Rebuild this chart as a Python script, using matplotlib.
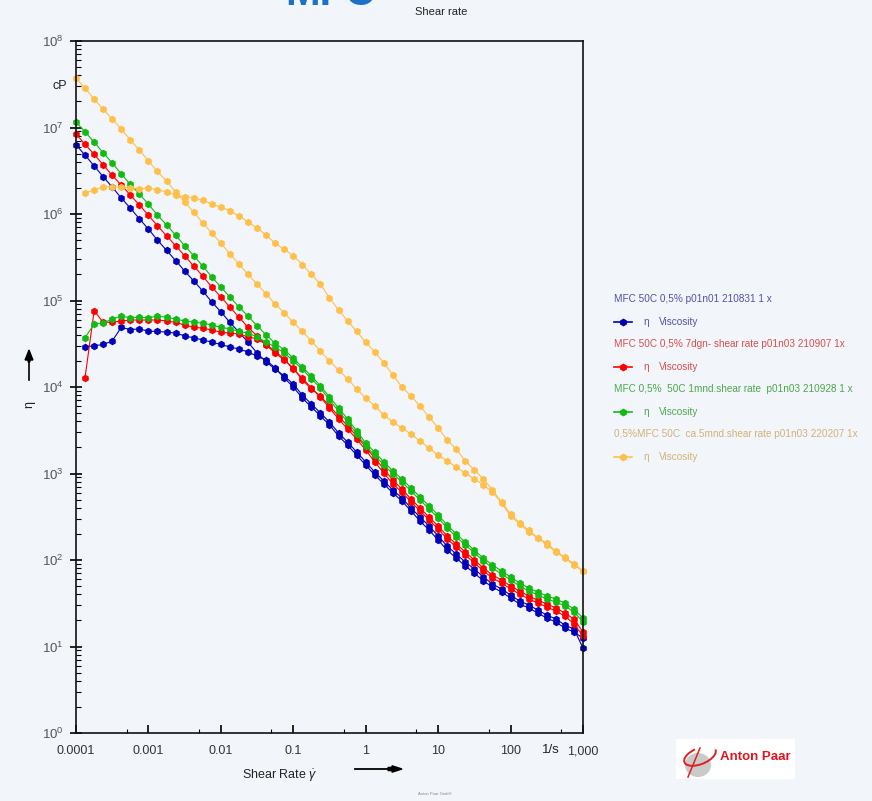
"""
plot.py

Flow curves (viscosity vs. shear rate) of four MFC samples, Anton Paar style.
"""

import numpy as np
import matplotlib
matplotlib.use("Agg")
import matplotlib.pyplot as plt
from matplotlib.lines import Line2D
from matplotlib.patches import Rectangle, Ellipse, Arc, FancyArrow
from matplotlib.ticker import LogLocator, NullFormatter

plt.rcParams["font.family"] = ["Liberation Sans", "DejaVu Sans"]
plt.rcParams["mathtext.fontset"] = "custom"
plt.rcParams["mathtext.rm"] = "Liberation Sans"
plt.rcParams["mathtext.it"] = "Liberation Sans:italic"

# --- data: shear rate grid (1/s), 8 points per decade ---
shear_rate = [
    0.0001, 0.000133, 0.000178, 0.000237, 0.000316, 0.000422, 0.000562, 0.00075,
    0.001, 0.00133, 0.00178, 0.00237, 0.00316, 0.00422, 0.00562, 0.0075,
    0.01, 0.0133, 0.0178, 0.0237, 0.0316, 0.0422, 0.0562, 0.075,
    0.1, 0.133, 0.178, 0.237, 0.316, 0.422, 0.562, 0.75,
    1, 1.33, 1.78, 2.37, 3.16, 4.22, 5.62, 7.5,
    10, 13.3, 17.8, 23.7, 31.6, 42.2, 56.2, 75,
    100, 133, 178, 237, 316, 422, 562, 750,
    1000,
]

# viscosity in cP; "up" = increasing shear rate (starts at shear_rate[1]),
# "down" = decreasing ramp, stored in ascending shear rate order
blue_up = [2.9e4, 3.0e4, 3.1e4, 3.4e4, 4.9e4, 4.6e4, 4.7e4, 4.4e4, 4.4e4, 4.3e4,
           4.2e4, 3.9e4, 3.7e4, 3.5e4, 3.3e4, 3.1e4, 2.9e4, 2.75e4, 2.54e4, 2.28e4,
           2.05e4, 1.66e4, 1.27e4, 1.0e4, 7460, 5870, 4620, 3640, 2710, 2130,
           1630, 1250, 961, 756, 595, 481, 369, 282, 222, 170,
           130, 105, 85.2, 70.7, 57.2, 48.7, 42.7, 36.4, 31.0, 27.9,
           24.4, 21.3, 19.2, 16.3, 14.7, 12.5]
blue_down = [6.3e6, 4.8e6, 3.6e6, 2.7e6, 2.05e6, 1.53e6, 1.17e6, 8.8e5, 6.7e5, 5.0e5,
             3.8e5, 2.9e5, 2.2e5, 1.68e5, 1.29e5, 9.6e4, 7.4e4, 5.6e4, 4.3e4, 3.3e4,
             2.47e4, 1.95e4, 1.61e4, 1.34e4, 1.08e4, 8080, 6360, 5010, 3940, 2940,
             2310, 1770, 1360, 1040, 819, 644, 521, 399, 314, 247,
             190, 145, 117, 94.8, 78.7, 63.6, 52.8, 46.2, 39.4, 33.6,
             30.2, 26.4, 23.1, 20.8, 17.7, 15.9, 9.6]

red_up = [1.27e4, 7.6e4, 5.6e4, 5.6e4, 5.8e4, 5.95e4, 5.95e4, 5.95e4, 5.95e4, 5.8e4,
          5.6e4, 5.2e4, 4.9e4, 4.8e4, 4.56e4, 4.3e4, 4.2e4, 4.1e4, 3.8e4, 3.6e4,
          3.1e4, 2.6e4, 2.1e4, 1.6e4, 1.27e4, 9740, 7660, 5720, 4270, 3270,
          2500, 1870, 1360, 1010, 756, 611, 468, 369, 290, 228,
          175, 141, 114, 92.3, 74.6, 61.9, 54.2, 46.2, 40.5, 35.4,
          31.8, 28.6, 25.7, 22.5, 18.2, 13.2]
red_down = [8.4e6, 6.4e6, 4.9e6, 3.7e6, 2.8e6, 2.16e6, 1.66e6, 1.27e6, 9.7e5, 7.3e5,
            5.6e5, 4.3e5, 3.3e5, 2.5e5, 1.92e5, 1.43e5, 1.10e5, 8.4e4, 6.4e4, 4.9e4,
            3.9e4, 3.06e4, 2.47e4, 2.05e4, 1.66e4, 1.21e4, 9480, 7870, 6030, 4620,
            3540, 2710, 2020, 1510, 1130, 841, 662, 507, 399, 314,
            247, 190, 153, 124, 100, 80.8, 67.1, 58.7, 50.1, 43.8,
            38.4, 34.5, 31.0, 27.9, 24.4, 20.8, 14.7]

green_up = [3.7e4, 5.35e4, 5.5e4, 6.1e4, 6.6e4, 6.3e4, 6.4e4, 6.3e4, 6.6e4, 6.4e4,
            6.1e4, 5.8e4, 5.6e4, 5.5e4, 5.2e4, 4.9e4, 4.7e4, 4.4e4, 4.2e4, 3.8e4,
            3.3e4, 2.9e4, 2.47e4, 2.0e4, 1.61e4, 1.24e4, 9740, 7070, 5280, 3940,
            2860, 2080, 1630, 1250, 990, 797, 627, 494, 389, 306,
            234, 184, 149, 121, 97.4, 80.8, 68.9, 58.7, 50.1, 43.8,
            39.4, 35.4, 32.7, 29.4, 25.0, 19.2]
green_down = [1.16e7, 8.9e6, 6.8e6, 5.1e6, 3.9e6, 2.9e6, 2.2e6, 1.70e6, 1.30e6, 9.7e5,
              7.5e5, 5.7e5, 4.3e5, 3.3e5, 2.5e5, 1.87e5, 1.43e5, 1.10e5, 8.4e4, 6.6e4,
              5.1e4, 4.0e4, 3.2e4, 2.7e4, 2.16e4, 1.70e4, 1.34e4, 1.03e4, 7660, 5720,
              4270, 3100, 2250, 1770, 1360, 1070, 864, 680, 535, 421,
              331, 254, 200, 161, 130, 105, 87.6, 74.6, 63.6, 54.2,
              47.5, 42.7, 38.4, 35.4, 31.8, 27.1, 21.3]

orange_up = [1.75e6, 1.90e6, 2.05e6, 2.05e6, 2.05e6, 2.0e6, 1.95e6, 2.0e6, 1.90e6, 1.80e6,
             1.66e6, 1.57e6, 1.53e6, 1.45e6, 1.30e6, 1.21e6, 1.08e6, 9.5e5, 8.1e5, 6.9e5,
             5.7e5, 4.6e5, 3.9e5, 3.3e5, 2.6e5, 2.0e5, 1.55e5, 1.07e5, 7.8e4, 5.8e4,
             4.4e4, 3.3e4, 2.54e4, 1.90e4, 1.38e4, 1.0e4, 7870, 6030, 4500, 3360,
             2440, 1920, 1390, 1100, 864, 644, 468, 340, 268, 222,
             180, 157, 127, 108, 89.9, 74.6]
orange_down = [3.7e7, 2.86e7, 2.13e7, 1.63e7, 1.25e7, 9.6e6, 7.2e6, 5.5e6, 4.1e6, 3.1e6,
               2.4e6, 1.80e6, 1.38e6, 1.05e6, 7.9e5, 6.0e5, 4.6e5, 3.45e5, 2.64e5, 2.0e5,
               1.55e5, 1.19e5, 9.1e4, 7.2e4, 5.6e4, 4.4e4, 3.4e4, 2.6e4, 2.0e4, 1.57e4,
               1.24e4, 9480, 7460, 6030, 4750, 3940, 3360, 2860, 2370, 1970,
               1630, 1390, 1190, 1010, 864, 736, 611, 456, 322, 261,
               211, 180, 149, 124, 105, 87.6, 74.6]

sample_names = [
    "MFC 50C 0,5% p01n01 210831 1 x",
    "MFC 50C 0,5% 7dgn- shear rate p01n03 210907 1x",
    "MFC 0,5%  50C 1mnd.shear rate  p01n03 210928 1 x",
    "0,5%MFC 50C  ca.5mnd.shear rate p01n03 220207 1x",
]
line_colors = ["#0000B8", "#FF0000", "#12BA12", "#FFC04A"]
text_colors = ["#5252A8", "#D84E4E", "#4CA84C", "#D2B276"]

x_ticks = [1e-4, 1e-3, 1e-2, 1e-1, 1, 10, 100, 1000]
x_ticklabels = ["0.0001", "0.001", "0.01", "0.1", "1", "10", "100", "1,000"]

W, H = 872, 801
BG = "#F2F5FA"


def fx(px):
    return px / W


def fy(py):
    return 1 - py / H


fig = plt.figure(figsize=(W / 100, H / 100), dpi=100, facecolor=BG)
ax = fig.add_axes([fx(76), fy(733), fx(583) - fx(76), fy(41) - fy(733)])
ax.set_facecolor(BG)

series = [
    (blue_up, blue_down),
    (red_up, red_down),
    (green_up, green_down),
    (orange_up, orange_down),
]
style = dict(marker="h", markersize=4.3, linewidth=0.8, clip_on=False)
for (up, down), col in zip(series, line_colors):
    ax.plot(shear_rate[1:], up, color=col, **style)
    ax.plot(shear_rate, down, color=col, **style)

ax.set_xscale("log")
ax.set_yscale("log")
ax.set_xlim(1e-4, 1e3)
ax.set_ylim(1, 1e8)

for s in ax.spines.values():
    s.set_color("#111111")
    s.set_linewidth(1.2)

ax.set_xticks(x_ticks)
ax.set_xticklabels(x_ticklabels)
ax.xaxis.set_minor_locator(LogLocator(base=10, subs=[5]))
ax.xaxis.set_minor_formatter(NullFormatter())
ax.yaxis.set_major_locator(LogLocator(base=10, numticks=12))
ax.yaxis.set_minor_locator(LogLocator(base=10, subs=np.arange(2, 10), numticks=12))
ax.yaxis.set_minor_formatter(NullFormatter())

ax.tick_params(axis="y", which="major", direction="inout", length=8, width=1.2,
               pad=5, labelsize=9.5, labelcolor="#555555")
ax.tick_params(axis="y", which="minor", direction="in", length=3.5, width=0.8)
ax.tick_params(axis="x", which="major", direction="in", length=6, width=1.2,
               pad=9, labelsize=9, labelcolor="#333333")
ax.tick_params(axis="x", which="minor", direction="in", length=3, width=0.8)

# --- axis annotations ---
fig.text(fx(551), fy(750), "1/s", ha="center", va="center", fontsize=9.5, color="#222222")
fig.text(fx(60), fy(86), "cP", ha="center", va="center", fontsize=9, color="#222222")
fig.text(fx(280), fy(776), r"Shear Rate $\dot{\gamma}$", ha="center", va="center",
         fontsize=9, color="#222222")
fig.add_artist(Line2D([fx(355), fx(392)], [fy(769), fy(769)], color="black", lw=1.3))
fig.patches.append(FancyArrow(
    fx(388), fy(769), fx(14), 0, width=0.004, head_width=0.008, head_length=fx(10),
    length_includes_head=True, color="black", transform=fig.transFigure))
fig.text(fx(29), fy(405), "η", ha="center", va="center", fontsize=9, color="#222222",
         rotation=90)
fig.add_artist(Line2D([fx(29), fx(29)], [fy(380), fy(356)], color="black", lw=1.2))
fig.patches.append(FancyArrow(
    fx(29), fy(362), 0, fy(350) - fy(362), width=0.002, head_width=0.009,
    head_length=fy(352) - fy(362), length_includes_head=True, color="black",
    transform=fig.transFigure))

# --- titles (big title is cut by the top edge, as in the slide) ---
fig.text(fx(330), fy(5), "MFC", ha="center", va="baseline", fontsize=30,
         fontweight="bold", color="#1C72C6")
fig.text(fx(441), fy(12), "Shear rate", ha="center", va="center", fontsize=8,
         color="#222222")
fig.text(fx(435), fy(794), "Anton Paar GmbH", ha="center", va="center", fontsize=3,
         color="#888888")

# --- legend block ---
for k, (name, lc, tc) in enumerate(zip(sample_names, line_colors, text_colors)):
    y_title = 299 + 45 * k
    y_line = 322 + 45 * k
    fig.text(fx(614), fy(y_title), name, ha="left", va="center", fontsize=7.2, color=tc)
    fig.add_artist(Line2D([fx(614), fx(623), fx(632)], [fy(y_line)] * 3,
                          color=lc, lw=1.2, marker="h", markersize=4.5, markevery=[1]))
    fig.text(fx(643), fy(y_line), "η", ha="left", va="center", fontsize=7.2, color=tc)
    fig.text(fx(659), fy(y_line), "Viscosity", ha="left", va="center", fontsize=7.2,
             color=tc)

# --- logo ---
fig.patches.append(Rectangle((fx(676), fy(779)), fx(795) - fx(676), fy(739) - fy(779),
                             facecolor="white", edgecolor="none", transform=fig.transFigure))
fig.patches.append(Ellipse((fx(698), fy(765)), fx(26), fy(0) - fy(24), facecolor="#CACACA",
                           edgecolor="none", transform=fig.transFigure))
fig.patches.append(Arc((fx(700), fy(756)), fx(34), fy(0) - fy(16), angle=25, theta1=100,
                       theta2=360, color="#E02020", lw=1.4, transform=fig.transFigure))
fig.add_artist(Line2D([fx(700), fx(688)], [fy(748), fy(777)], color="#E02020", lw=1.1))
fig.text(fx(755), fy(757), "Anton Paar", ha="center", va="center", fontsize=9.5,
         fontweight="bold", color="#E0141E")

fig.savefig("out.png", dpi=100, facecolor=BG)
plt.close(fig)
